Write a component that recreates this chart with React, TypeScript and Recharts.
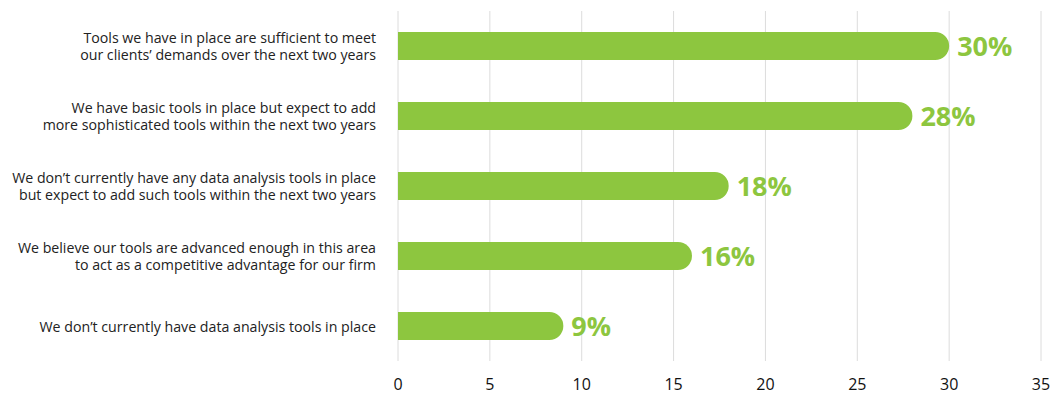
import { BarChart, Bar, XAxis, YAxis, CartesianGrid, LabelList } from 'recharts';

const statements = [
  ['Tools we have in place are sufficient to meet', 'our clients\u2019 demands over the next two years'],
  ['We have basic tools in place but expect to add', 'more sophisticated tools within the next two years'],
  ['We don\u2019t currently have any data analysis tools in place', 'but expect to add such tools within the next two years'],
  ['We believe our tools are advanced enough in this area', 'to act as a competitive advantage for our firm'],
  ['We don\u2019t currently have data analysis tools in place'],
];
const shares = [30, 28, 18, 16, 9];
const xTicks = [0, 5, 10, 15, 20, 25, 30, 35];

const data = statements.map((lines, i) => ({ key: String(i), lines, value: shares[i] }));

const GREEN = '#8dc63f';
const FONT = "'Open Sans', Lato, sans-serif";

function StatementTick({ x, y, payload }: any) {
  const lines: string[] = data[Number(payload.value)]?.lines ?? [];
  const lh = 17;
  const start = y - ((lines.length - 1) * lh) / 2;
  return (
    <text x={x} y={start} textAnchor="end" fill="#222" fontSize={14.2} fontFamily={FONT}>
      {lines.map((l, i) => (
        <tspan key={i} x={x} y={start + i * lh} dominantBaseline="central">{l}</tspan>
      ))}
    </text>
  );
}

export default function App() {
  return (
    <div style={{ position: 'absolute', left: 0, top: 0, width: 1051, height: 396, background: '#fff' }}>
      <BarChart
        width={1051}
        height={396}
        data={data}
        layout="vertical"
        margin={{ top: 11, right: 10, left: 0, bottom: 0 }}
        barCategoryGap={21}
      >
        <CartesianGrid horizontal={false} stroke="#dcdcdc" />
        <XAxis
          type="number"
          domain={[0, 35]}
          ticks={xTicks}
          axisLine={false}
          tickLine={false}
          height={35}
          tickMargin={12}
          tick={{ fill: '#111', fontSize: 16, fontFamily: FONT }}
        />
        <YAxis
          type="category"
          dataKey="key"
          width={398}
          axisLine={false}
          tickLine={false}
          tickMargin={16}
          tick={<StatementTick />}
        />
        <Bar dataKey="value" fill={GREEN} radius={[0, 14, 14, 0]} isAnimationActive={false}>
          <LabelList
            dataKey="value"
            position="right"
            offset={8}
            formatter={(v: any) => `${v}%`}
            style={{ fill: GREEN, fontSize: 27, fontWeight: 700, fontFamily: FONT }}
          />
        </Bar>
      </BarChart>
    </div>
  );
}
